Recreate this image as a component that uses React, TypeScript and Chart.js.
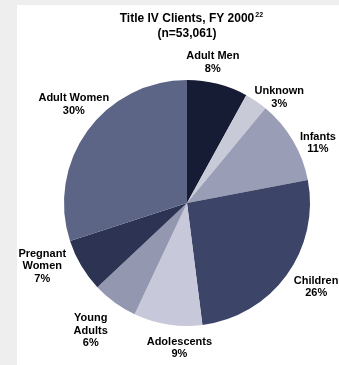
import React, { useEffect, useRef } from "react";
import { Chart, registerables } from "chart.js";

Chart.register(...registerables);

const categories = ["Adult Men", "Unknown", "Infants", "Children", "Adolescents", "Young Adults", "Pregnant Women", "Adult Women"];
const percents = [8, 3, 11, 26, 9, 6, 7, 30];
const labelLines = [["Adult Men"], ["Unknown"], ["Infants"], ["Children"], ["Adolescents"], ["Young", "Adults"], ["Pregnant", "Women"], ["Adult Women"]];
const sliceColors = ["#171c35", "#c9cad8", "#9a9db6", "#3c4567", "#c7c9db", "#9397b0", "#2d3453", "#5d6586"];
const titleLines = ["Title IV Clients, FY 2000", "(n=53,061)"];

// label placement tweaks: [angle shift in degrees, gap beyond the outer radius]
const labelNudges: [number, number][] = [
  [-4, 20], [7, 17], [6, 21], [-3, 31], [-6, 22], [1, 37], [7, 35], [5, 27],
];

const labelPlugin = {
  id: "labelPlugin",
  beforeDraw(chart: any) {
    const ctx = chart.ctx;
    ctx.save();
    ctx.fillStyle = "#eeeeee";
    ctx.fillRect(0, 0, chart.width, chart.height);
    ctx.fillStyle = "#ffffff";
    ctx.fillRect(17, 5, chart.width - 17, chart.height - 5);
    ctx.restore();
  },
  afterDraw(chart: any) {
    const ctx = chart.ctx;
    const meta = chart.getDatasetMeta(0);
    ctx.save();
    ctx.fillStyle = "#000";
    ctx.textAlign = "center";
    ctx.textBaseline = "middle";
    // title
    ctx.font = 'bold 12px "Liberation Sans", Arial, sans-serif';
    const cxT = (chart.chartArea.left + chart.chartArea.right) / 2;
    ctx.fillText(titleLines[0], cxT, 19);
    const w0 = ctx.measureText(titleLines[0]).width;
    ctx.font = 'bold 7px "Liberation Sans", Arial, sans-serif';
    ctx.textAlign = "left";
    ctx.fillText("22", cxT + w0 / 2 + 1, 15);
    ctx.textAlign = "center";
    ctx.font = 'bold 12px "Liberation Sans", Arial, sans-serif';
    ctx.fillText(titleLines[1], cxT, 34);

    ctx.font = 'bold 11px "Liberation Sans", Arial, sans-serif';
    meta.data.forEach((arc: any, i: number) => {
      const p = arc.getProps(["x", "y", "startAngle", "endAngle", "outerRadius"], true);
      const [da, gap] = labelNudges[i];
      const mid = (p.startAngle + p.endAngle) / 2 + (da * Math.PI) / 180;
      const d = p.outerRadius + gap;
      const x = p.x + Math.cos(mid) * d;
      const y = p.y + Math.sin(mid) * d;
      const lines = [...labelLines[i], percents[i] + "%"];
      const lh = 12.5;
      const top = y - ((lines.length - 1) * lh) / 2;
      lines.forEach((t, j) => ctx.fillText(t, x, top + j * lh));
    });
    ctx.restore();
  },
};

export default function App() {
  const ref = useRef<HTMLCanvasElement>(null);
  useEffect(() => {
    if (!ref.current) return;
    const chart = new Chart(ref.current, {
      type: "pie",
      data: {
        labels: categories,
        datasets: [
          {
            data: percents,
            backgroundColor: sliceColors,
            borderWidth: 0,
            hoverOffset: 0,
            offset: 0,
          },
        ],
      },
      options: {
        responsive: false,
        animation: false,
        layout: { padding: { left: 64, right: 29, top: 80, bottom: 39 } },
        plugins: {
          legend: { display: false },
          tooltip: { enabled: false },
          title: { display: false },
        },
      },
      plugins: [labelPlugin],
    } as any);
    return () => chart.destroy();
  }, []);
  return (
    <div style={{ position: "absolute", left: 0, top: 0, width: 339, height: 365 }}>
      <canvas ref={ref} width={339} height={365} style={{ display: "block" }} />
    </div>
  );
}
